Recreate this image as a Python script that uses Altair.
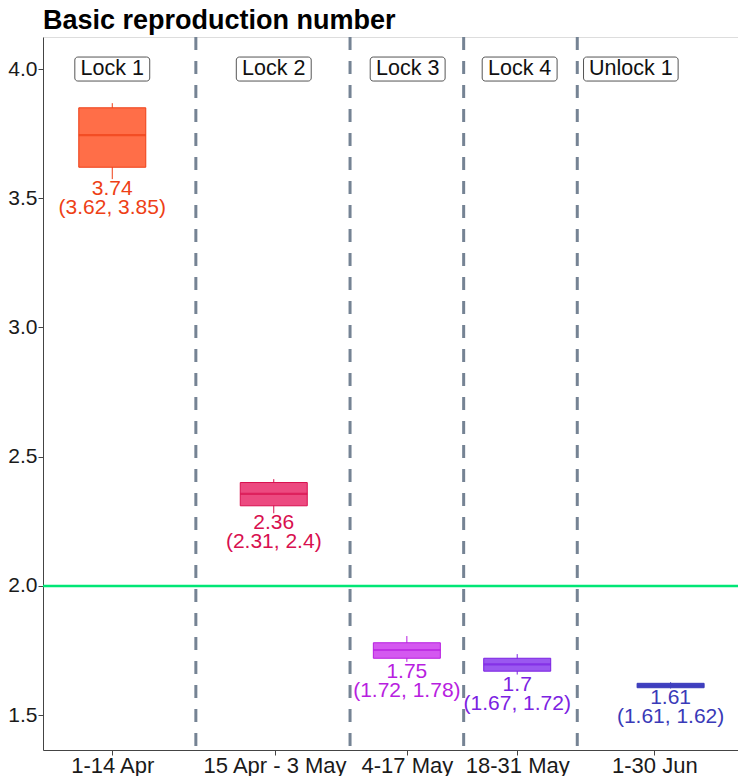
import altair as alt
import pandas as pd

# ---- data ----
periods = ["1-14 Apr", "15 Apr - 3 May", "4-17 May", "18-31 May", "1-30 Jun"]
phases = ["Lock 1", "Lock 2", "Lock 3", "Lock 4", "Unlock 1"]
box_day = [4.2, 24.1, 40.5, 54.1, 73.0]        # x position (days since 31 Mar) of each box
tick_day = [4.2, 24.2, 40.5, 54.1, 71.0]       # x axis break positions
phase_day = [4.2, 24.1, 40.6, 54.4, 68.1]      # positions of the phase labels
boundaries = [14.5, 33.5, 47.5, 61.5]          # dashed phase boundaries
whisker_lo = [3.574, 2.281, 1.706, 1.657, 1.603]
q1 = [3.62, 2.31, 1.72, 1.67, 1.606]
median = [3.744, 2.356, 1.752, 1.696, 1.614]
q3 = [3.85, 2.40, 1.78, 1.72, 1.623]
whisker_hi = [3.868, 2.413, 1.806, 1.736, 1.627]
threshold = 2.0
phase_label_y = 4.0

stroke_cols = ["#EE3F16", "#D8104F", "#B81EE0", "#7C22E2", "#3A3AB8"]
fill_cols = ["#FF6E48", "#EC4A80", "#D458F0", "#9A58F0", "#4646C8"]

X_DOMAIN = [-3.72, 80.69]
Y_DOMAIN = [1.365, 4.124]
W, H = 695, 713
px_per_day = W / (X_DOMAIN[1] - X_DOMAIN[0])
px_per_unit = H / (Y_DOMAIN[1] - Y_DOMAIN[0])

FONT = "Liberation Sans"

boxes = pd.DataFrame({
    "period": periods, "x": box_day, "lo": whisker_lo, "q1": q1,
    "med": median, "q3": q3, "hi": whisker_hi,
    "stroke": stroke_cols, "fill": fill_cols,
})
phase_df = pd.DataFrame({"phase": phases, "x": phase_day, "y": [phase_label_y] * len(phases)})
bound_df = pd.DataFrame({"b": boundaries})
thr_df = pd.DataFrame({"t": [threshold]})

xscale = alt.Scale(domain=X_DOMAIN, nice=False, zero=False)
yscale = alt.Scale(domain=Y_DOMAIN, nice=False, zero=False)

label_expr = " : ".join(
    f"datum.value == {v} ? '{p}'" for v, p in zip(tick_day, periods)
) + " : ''"

x_axis = alt.Axis(
    values=tick_day, labelExpr=label_expr, title=None, grid=False,
    labelFontSize=22, labelFont=FONT, labelColor="#1a1a1a",
    domainColor="#444444", tickColor="#444444", tickSize=5, labelPadding=0,
    labelFlush=False, labelOverlap=False,
)
y_axis = alt.Axis(
    values=[1.5, 2.0, 2.5, 3.0, 3.5, 4.0], format=".1f", title=None, grid=False,
    labelFontSize=21, labelFont=FONT, labelColor="#1a1a1a",
    domainColor="#444444", tickColor="#444444", tickSize=5, labelPadding=1,
)


def X(field):
    return alt.X(field, scale=xscale, axis=x_axis)


def Y(field):
    return alt.Y(field, scale=yscale, axis=y_axis)


base = alt.Chart(boxes)

# dashed boundaries
bounds = alt.Chart(bound_df).mark_rule(
    color="#758394", strokeWidth=3, strokeDash=[13, 11]
).encode(x=X("b:Q"))

# threshold line
thr = alt.Chart(thr_df).mark_rule(color="#00E676", strokeWidth=2.5).encode(y=Y("t:Q"))

whisk = base.mark_rule(strokeWidth=1).encode(
    x=X("x:Q"), y=Y("lo:Q"), y2="hi:Q",
    color=alt.Color("stroke:N", scale=None),
)

box = base.mark_bar(size=67, strokeWidth=1).encode(
    x=X("x:Q"), y=Y("q1:Q"), y2="q3:Q",
    fill=alt.Fill("fill:N", scale=None),
    stroke=alt.Stroke("stroke:N", scale=None),
)

med = base.mark_tick(orient="horizontal", size=67, thickness=2.2).encode(
    x=X("x:Q"), y=Y("med:Q"),
    color=alt.Color("stroke:N", scale=None),
)

txt = base.transform_calculate(
    lab="[format(datum.med, '.3~r'), '(' + format(datum.q1, '.3~r') + ', ' + format(datum.q3, '.3~r') + ')']"
).mark_text(
    baseline="top", fontSize=21, font=FONT, lineHeight=19, dy=-1
).encode(
    x=X("x:Q"), y=Y("lo:Q"), text="lab:N",
    color=alt.Color("stroke:N", scale=None),
)

# phase labels with boxes
phase_base = alt.Chart(phase_df).transform_calculate(
    half=f"(length(datum.phase) * 5 + 8) / {px_per_day}",
    x0="datum.x - datum.half",
    x1="datum.x + datum.half",
    y0=f"datum.y - 12 / {px_per_unit}",
    y1=f"datum.y + 12 / {px_per_unit}",
)
phase_box = phase_base.mark_rect(
    fill="white", stroke="#555555", strokeWidth=1, cornerRadius=3
).encode(
    x=X("x0:Q"), x2="x1:Q", y=Y("y0:Q"), y2="y1:Q",
)
phase_txt = phase_base.mark_text(fontSize=21.5, font=FONT, color="#111111").encode(
    x=X("x:Q"), y=Y("y:Q"), text="phase:N"
)

chart = alt.layer(
    bounds, thr, whisk, box, med, txt, phase_box, phase_txt
).properties(
    width=W, height=H,
    title=alt.TitleParams(
        "Basic reproduction number", anchor="start", frame="group",
        fontSize=27, font=FONT, fontWeight="bold", color="black",
        baseline="alphabetic", offset=12, dy=32,
    ),
    autosize=alt.AutoSizeParams(type="none"),
    padding={"left": 35, "top": 29, "right": 0, "bottom": 26},
).configure_view(stroke=None).configure(background="white")

chart.save("out.html", embed_options={"renderer": "svg", "actions": False})
